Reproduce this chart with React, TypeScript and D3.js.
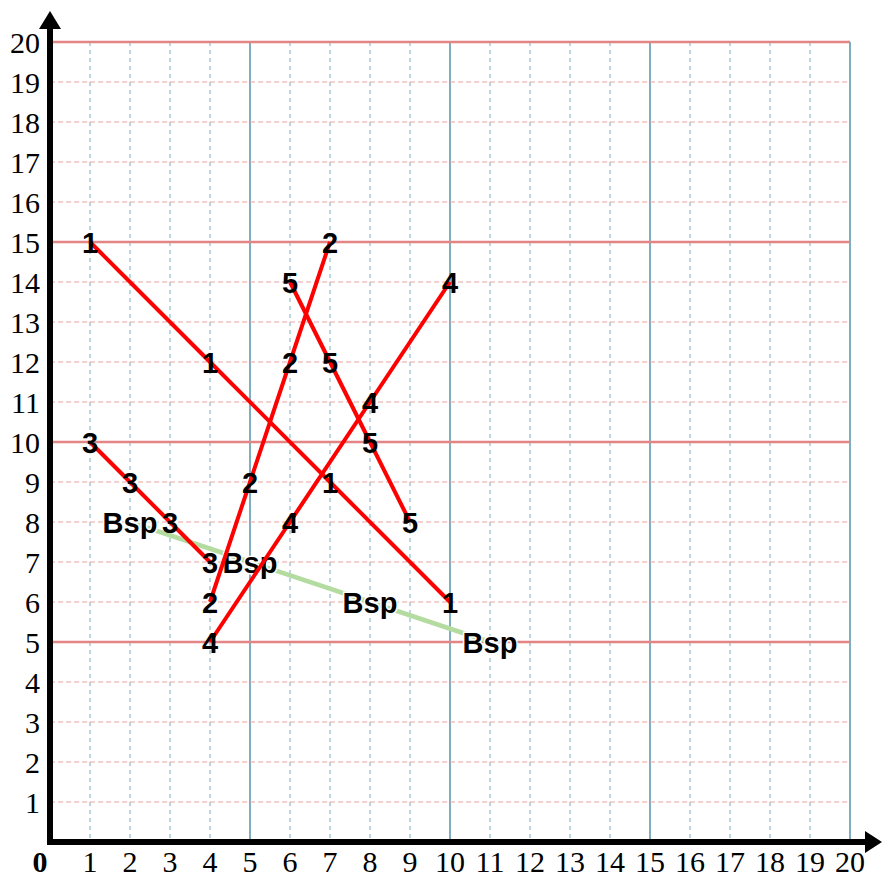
import React from "react";
import * as d3 from "d3";

const ticks = d3.range(0, 21);
const majorTicks = [5, 10, 15, 20];

const s1X = [1, 4, 7, 10];
const s1Y = [15, 12, 9, 6];
const s2X = [4, 5, 6, 7];
const s2Y = [6, 9, 12, 15];
const s3X = [1, 2, 3, 4];
const s3Y = [10, 9, 8, 7];
const s4X = [4, 6, 8, 10];
const s4Y = [5, 8, 11, 14];
const s5X = [6, 7, 8, 9];
const s5Y = [14, 12, 10, 8];
const bspX = [2, 5, 8, 11];
const bspY = [8, 7, 6, 5];

const seriesNames = ["1", "2", "3", "4", "5"];
const seriesXs = [s1X, s2X, s3X, s4X, s5X];
const seriesYs = [s1Y, s2Y, s3Y, s4Y, s5Y];
const bspName = "Bsp";

const W = 882;
const H = 874;

export default function App() {
  const x = d3.scaleLinear().domain([0, 20]).range([50, 850]);
  const y = d3.scaleLinear().domain([0, 20]).range([842, 42]);
  const line = d3
    .line<[number, number]>()
    .x((d) => x(d[0]))
    .y((d) => y(d[1]));

  const series = seriesNames.map((name, i) => ({
    name,
    pts: seriesXs[i].map((v, j) => [v, seriesYs[i][j]] as [number, number]),
  }));
  const bsp = bspX.map((v, j) => [v, bspY[j]] as [number, number]);

  const labelFont = "'Liberation Sans', Arial, sans-serif";
  const tickFont = "'Liberation Serif', 'Times New Roman', serif";

  return (
    <svg
      width={W}
      height={H}
      style={{ position: "absolute", left: 0, top: 0, background: "#fff" }}
    >
      {/* vertical grid */}
      {ticks
        .filter((t) => t > 0)
        .map((t) =>
          majorTicks.includes(t) ? (
            <line
              key={"vx" + t}
              x1={x(t)}
              x2={x(t)}
              y1={y(20)}
              y2={y(0)}
              stroke="#7eaebf"
              strokeWidth={2}
            />
          ) : (
            <line
              key={"vx" + t}
              x1={x(t)}
              x2={x(t)}
              y1={y(20)}
              y2={y(0)}
              stroke="#bcd6df"
              strokeWidth={2}
              strokeDasharray="4,4"
            />
          )
        )}
      {/* horizontal grid */}
      {ticks
        .filter((t) => t > 0)
        .map((t) =>
          majorTicks.includes(t) ? (
            <line
              key={"hy" + t}
              x1={x(0)}
              x2={x(20)}
              y1={y(t)}
              y2={y(t)}
              stroke="#e38585"
              strokeWidth={2.5}
            />
          ) : (
            <line
              key={"hy" + t}
              x1={x(0)}
              x2={x(20)}
              y1={y(t)}
              y2={y(t)}
              stroke="#e8a3a3"
              strokeWidth={1.2}
              strokeDasharray="5,3"
            />
          )
        )}

      {/* Bsp line and labels */}
      <path d={line(bsp) || ""} fill="none" stroke="#b5dca0" strokeWidth={4.5} />
      {bsp.map((p, j) => (
        <text
          key={"bsp" + j}
          x={x(p[0])}
          y={y(p[1]) + 10.5}
          textAnchor="middle"
          fontFamily={labelFont}
          fontWeight="bold"
          fontSize={29}
          fill="#000"
          stroke="#fff"
          strokeWidth={3}
          paintOrder="stroke"
        >
          {bspName}
        </text>
      ))}

      {/* red series lines */}
      {series.map((s) => (
        <path
          key={"l" + s.name}
          d={line(s.pts) || ""}
          fill="none"
          stroke="#ff0000"
          strokeWidth={4}
        />
      ))}
      {/* point labels */}
      {series.map((s) =>
        s.pts.map((p, j) => (
          <text
            key={"t" + s.name + j}
            x={x(p[0])}
            y={y(p[1]) + 10.5}
            textAnchor="middle"
            fontFamily={labelFont}
            fontWeight="bold"
            fontSize={29}
            fill="#000"
          >
            {s.name}
          </text>
        ))
      )}

      {/* axes */}
      <line x1={x(0)} x2={x(0)} y1={845} y2={28} stroke="#000" strokeWidth={6} />
      <polygon points={`${x(0)},11 ${x(0) - 11},29 ${x(0) + 11},29`} fill="#000" />
      <line x1={47} x2={866} y1={y(0)} y2={y(0)} stroke="#000" strokeWidth={6} />
      <polygon
        points={`882,${y(0)} 865,${y(0) - 11} 865,${y(0) + 11}`}
        fill="#000"
      />

      {/* y tick labels */}
      {ticks
        .filter((t) => t > 0)
        .map((t) => (
          <text
            key={"yl" + t}
            x={40}
            y={y(t) + 11}
            textAnchor="end"
            fontFamily={tickFont}
            fontSize={30}
            fill="#000"
          >
            {t}
          </text>
        ))}
      {/* x tick labels */}
      {ticks
        .filter((t) => t > 0)
        .map((t) => (
          <text
            key={"xl" + t}
            x={x(t)}
            y={872}
            textAnchor="middle"
            fontFamily={tickFont}
            fontSize={30}
            fill="#000"
          >
            {t}
          </text>
        ))}
      <text
        x={40}
        y={872}
        textAnchor="middle"
        fontFamily={tickFont}
        fontWeight="bold"
        fontSize={30}
        fill="#000"
      >
        {ticks[0]}
      </text>
    </svg>
  );
}
